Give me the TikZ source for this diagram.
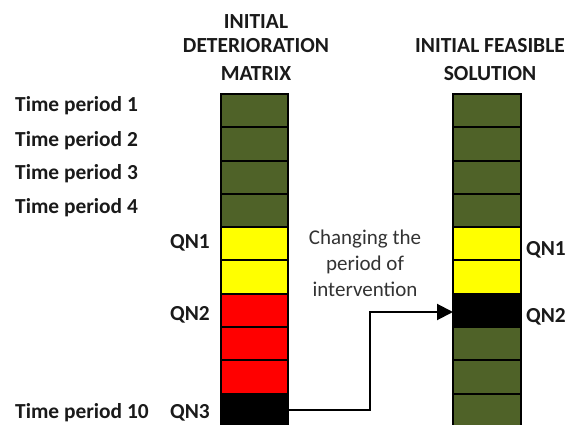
\documentclass[tikz,border=0pt]{standalone}
\usepackage{fontspec}
\setmainfont{Carlito}
\usetikzlibrary{arrows.meta}
\definecolor{cgreen}{HTML}{4F6228}
\definecolor{cyellow}{HTML}{FFFF00}
\definecolor{cred}{HTML}{FF0000}
\definecolor{ctext}{HTML}{1A1A1A}
\definecolor{cnote}{HTML}{333333}
\tikzset{
  cell/.style={draw=black, line width=2pt, minimum width=67pt, minimum height=33.3pt, inner sep=0pt, outer sep=0pt, anchor=north west},
  lbl/.style={font=\bfseries\fontsize{21.4}{24}\selectfont, text=ctext, inner sep=0pt},
  hdr/.style={font=\bfseries\fontsize{21.5}{24}\selectfont, text=ctext, inner sep=0pt, anchor=base},
  note/.style={font=\fontsize{21}{24}\selectfont, text=cnote, inner sep=0pt, anchor=base},
  conn/.style={line width=2pt, -{Triangle[length=16pt,width=16pt]}}
}
\begin{document}
\begin{tikzpicture}[x=1pt,y=-1pt]
\useasboundingbox (0,0) rectangle (571,425);
% left column
\foreach \i/\c in {1/cgreen,2/cgreen,3/cgreen,4/cgreen,5/cyellow,6/cyellow,7/cred,8/cred,9/cred,10/black}{
  \node[cell, fill=\c] (L\i) at (221,{94+(\i-1)*33.3}) {};
}
% right column
\foreach \i/\c in {1/cgreen,2/cgreen,3/cgreen,4/cgreen,5/cyellow,6/cyellow,7/black,8/cgreen,9/cgreen,10/cgreen}{
  \node[cell, fill=\c, minimum width=68pt] (R\i) at (453,{94+(\i-1)*33.3}) {};
}
% headers
\node[hdr] (h1) at (256,29) {INITIAL};
\node[hdr] (h2) at (256,53) {DETERIORATION};
\node[hdr] (h3) at (256,81) {MATRIX};
\node[hdr] (h4) at (490,53) {INITIAL FEASIBLE};
\node[hdr] (h5) at (490,81) {SOLUTION};
% left labels
\node[lbl, anchor=base west] (t1) at (15,112) {Time period 1};
\node[lbl, anchor=base west] (t2) at (15,146.5) {Time period 2};
\node[lbl, anchor=base west] (t3) at (15,180) {Time period 3};
\node[lbl, anchor=base west] (t4) at (15,213.5) {Time period 4};
\node[lbl, anchor=base west] (t10) at (15,418) {Time period 10};
\node[lbl, anchor=base east] (q1) at (210,249) {QN1};
\node[lbl, anchor=base east] (q2) at (210,320) {QN2};
\node[lbl, anchor=base east] (q3) at (210,418) {QN3};
% right labels
\node[lbl, anchor=base west] (r1) at (526,255) {QN1};
\node[lbl, anchor=base west] (r2) at (526,323) {QN2};
% note
\node[note] (n1) at (365,245) {Changing the};
\node[note] (n2) at (365,271) {period of};
\node[note] (n3) at (365,297) {intervention};
% connector
\coordinate (bend) at (370,312);
\draw[conn] (L10.east) -- (L10.east -| bend) -- (bend) -- (bend -| R7.west);
\end{tikzpicture}
\end{document}
